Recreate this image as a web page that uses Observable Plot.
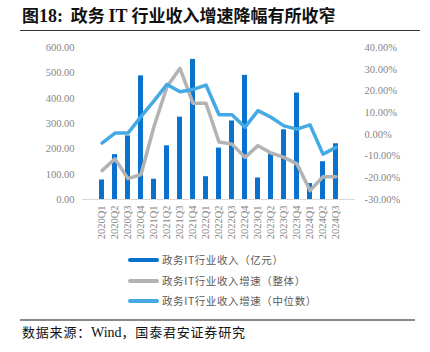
<!DOCTYPE html>
<html><head><meta charset="utf-8">
<script src="https://cdn.jsdelivr.net/npm/d3@7"></script>
<script src="https://cdn.jsdelivr.net/npm/@observablehq/plot@0.6"></script>
<style>
body{margin:0;background:#fff;}
#wrap{position:relative;width:430px;height:352px;overflow:hidden;font-family:"Noto Sans CJK SC",sans-serif;}
#title{position:absolute;left:22px;top:3px;font-size:17px;font-weight:bold;color:#111;white-space:nowrap;line-height:24px;}
#title .n{font-family:"Liberation Serif",serif;font-size:18px;}
#tline{position:absolute;left:20px;top:30px;width:400px;height:0;border-top:1.5px solid #333;}
#chart{position:absolute;left:0;top:36px;}
.leg{position:absolute;left:128px;font-size:10.5px;color:#595959;letter-spacing:0.6px;white-space:nowrap;line-height:14px;}
.leg i{position:absolute;left:0;top:5px;width:31px;height:4px;border-radius:2px;}
.leg span{position:absolute;left:34px;top:0;}
#bline{position:absolute;left:20px;top:319px;width:395px;height:0;border-top:2px solid #8a8a8a;}
#src{position:absolute;left:22px;top:323px;font-size:13px;letter-spacing:0.8px;color:#111;white-space:nowrap;line-height:18px;}
#src .w{font-family:"Liberation Serif",serif;font-size:14px;letter-spacing:0;}
</style></head>
<body><div id="wrap">
<div id="title">图<span class="n">18:</span>&nbsp; 政务 <span class="n">IT</span> 行业收入增速降幅有所收窄</div>
<div id="tline"></div>
<div id="chart"></div>
<div class="leg" style="top:253px"><i style="background:#0A72CC"></i><span>政务IT行业收入（亿元）</span></div>
<div class="leg" style="top:274px"><i style="background:#B3B3B3"></i><span>政务IT行业收入增速（整体）</span></div>
<div class="leg" style="top:294px"><i style="background:#45A9E4"></i><span>政务IT行业收入增速（中位数）</span></div>
<div id="bline"></div>
<div id="src">数据来源：<span class="w">Wind</span>，国泰君安证券研究</div>
</div>
<script>
const quarters = ["2020Q1","2020Q2","2020Q3","2020Q4","2021Q1","2021Q2","2021Q3","2021Q4","2022Q1","2022Q2","2022Q3","2022Q4","2023Q1","2023Q2","2023Q3","2023Q4","2024Q1","2024Q2","2024Q3"];
const revenue = [77,177,251,488,80,212,325,553,90,203,310,490,85,180,275,420,63,149,220];
const growthAll = [-16.7,-11.3,-20.4,-18.5,3.6,21.9,30.4,14.3,14.3,-3.5,-4.5,-10.6,-5.2,-8.6,-10.6,-13.6,-25.9,-19.5,-19.5];
const growthMedian = [-4,0.6,0.6,8.2,15.4,23,19.6,20.7,22.7,9,9,3.3,10.9,7.9,3.9,2.4,4.4,-9.1,-6];
const leftTicks = [0,100,200,300,400,500,600];
const rightTicks = [-30,-20,-10,0,10,20,30,40];

const toLeft = p => (p + 30) / 70 * 600;
const fromLeft = v => Math.round(v * 70 / 600 - 30);
const rows = quarters.map((q, i) => ({q, rev: revenue[i], all: growthAll[i], med: growthMedian[i]}));
const tickStyle = {fill: "#858585"};

const chart = Plot.plot({
  width: 430, height: 220,
  marginLeft: 82, marginRight: 75, marginTop: 11, marginBottom: 57,
  style: {fontFamily: "Liberation Serif, serif", fontSize: "10.5px", color: "#858585", background: "transparent"},
  x: {domain: quarters, padding: 0.64, label: null},
  y: {domain: [0, 600], label: null},
  marks: [
    Plot.barY(rows, {x: "q", y: "rev", fill: "#0A72CC"}),
    Plot.ruleY([0], {stroke: "#d9d9d9", strokeWidth: 1}),
    Plot.line(rows, {x: "q", y: d => toLeft(d.all), stroke: "#B3B3B3", strokeWidth: 3.5, strokeLinejoin: "round", strokeLinecap: "round"}),
    Plot.line(rows, {x: "q", y: d => toLeft(d.med), stroke: "#45A9E4", strokeWidth: 3.5, strokeLinejoin: "round", strokeLinecap: "round"}),
    Plot.axisY(leftTicks, {anchor: "left", tickSize: 0, tickPadding: 8, tickFormat: d => d.toFixed(2), label: null, ...tickStyle, style: {letterSpacing: "0.9px"}}),
    Plot.axisY(rightTicks.map(toLeft), {anchor: "right", tickSize: 0, tickPadding: 9, tickFormat: d => fromLeft(d).toFixed(2) + "%", label: null, ...tickStyle, style: {letterSpacing: "0.5px"}}),
    Plot.axisX(quarters, {anchor: "bottom", tickSize: 0, tickPadding: 6, tickRotate: -90, label: null, ...tickStyle})
  ]
});
document.getElementById("chart").appendChild(chart);
</script>
</body></html>
